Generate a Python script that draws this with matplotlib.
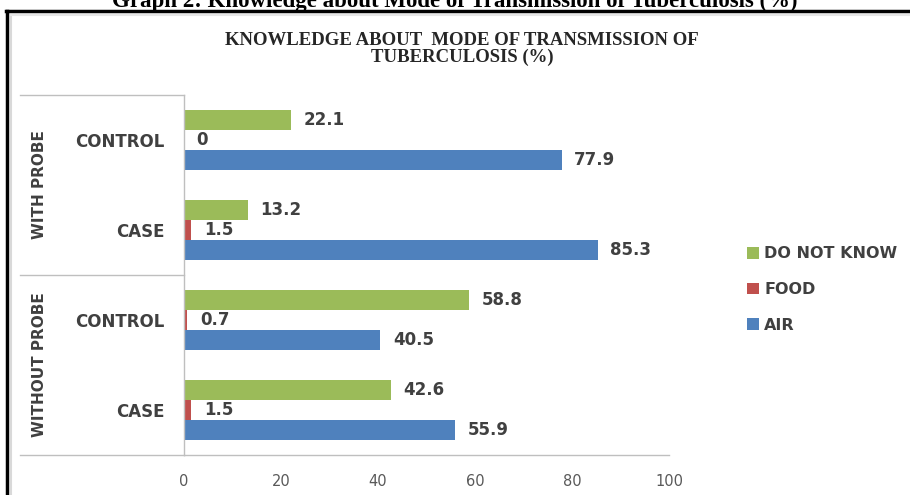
import matplotlib
matplotlib.use("Agg")
import matplotlib.pyplot as plt
import matplotlib.transforms as mtransforms

groups = ["WITH PROBE", "WITHOUT PROBE"]
categories = ["CONTROL", "CASE", "CONTROL", "CASE"]
air = [77.9, 85.3, 40.5, 55.9]
food = [0, 1.5, 0.7, 1.5]
dont_know = [22.1, 13.2, 58.8, 42.6]
series_names = ["DO NOT KNOW", "FOOD", "AIR"]
xticks = [0, 20, 40, 60, 80, 100]

W, H = 910, 495
green, red, blue = "#9BBB59", "#C0504D", "#4F81BD"
txt = "#404040"
sans = ["DejaVu Sans"]
serif = ["Liberation Serif", "DejaVu Serif"]

fig = plt.figure(figsize=(W / 100, H / 100), dpi=100)
ax = fig.add_axes([184 / W, 40 / H, 485 / W, 360 / H])

ypos = list(range(len(categories)))
off = 0.222
hgt = 0.212
series = [(dont_know, green, -off), (food, red, 0), (air, blue, off)]
for (vals, col, dy), name in zip(series, series_names):
    ys = [y + dy for y in ypos]
    ax.barh(ys, vals, height=hgt, color=col, label=name)
    for y, v in zip(ys, vals):
        ax.annotate(f"{v:g}", (v, y), xytext=(9, 0), textcoords="offset points",
                    va="center", ha="left", fontsize=12, fontweight="bold",
                    color=txt, family=sans)

ax.set_xlim(0, 100)
ax.set_ylim(3.5, -0.5)
ax.set_xticks(xticks)
ax.set_xticklabels([str(t) for t in xticks], fontsize=10.5, color="#595959", family=sans)
ax.set_yticks(ypos)
ax.set_yticklabels(categories, fontsize=12, fontweight="bold", color=txt, family=sans)
ax.tick_params(axis="x", length=0, pad=14)
ax.tick_params(axis="y", length=0, pad=14)
for s in ["top", "right"]:
    ax.spines[s].set_visible(False)
for s in ["left", "bottom"]:
    ax.spines[s].set_color("#bfbfbf")
    ax.spines[s].set_linewidth(1)

# category axis separators and group labels
blend = mtransforms.blended_transform_factory(fig.transFigure, ax.transData)
for yl in [-0.5, 1.5, 3.5]:
    ax.plot([20 / W, 184 / W], [yl, yl], transform=blend, color="#bfbfbf",
            lw=1, clip_on=False)
for i, g in enumerate(groups):
    ax.text(40 / W, 2 * i + 0.5, g, transform=blend, rotation=90, ha="center",
            va="center", fontsize=11, fontweight="bold", color=txt, family=sans)

# legend
handles, labels = ax.get_legend_handles_labels()
leg = fig.legend(handles, labels, loc="upper left",
                 bbox_to_anchor=(733 / W, 1 - 232 / H), frameon=False,
                 handlelength=0.75, handleheight=0.75, handletextpad=0.3,
                 labelspacing=1.3, prop={"family": sans, "weight": "bold", "size": 11.5})
for t in leg.get_texts():
    t.set_color(txt)

# titles
fig.text(0.508, 1 - 49 / H, "KNOWLEDGE ABOUT  MODE OF TRANSMISSION OF\nTUBERCULOSIS (%)",
         ha="center", va="center", fontsize=13.5, fontweight="bold", color="#262626",
         family=serif, linespacing=1.0)
fig.text(0.5, 1 - 7 / H, "Graph 2: Knowledge about Mode of Transmission of Tuberculosis (%)",
         ha="center", va="baseline", fontsize=16.5, fontweight="bold", color="black",
         family=serif)

# outer frame
fig.add_artist(plt.Line2D([7 / W, 7 / W], [0, 1 - 11 / H], color="black", lw=2.5,
                          transform=fig.transFigure))
fig.add_artist(plt.Line2D([6 / W, 1], [1 - 11 / H, 1 - 11 / H], color="black", lw=2.5,
                          transform=fig.transFigure))
fig.add_artist(plt.Line2D([11 / W, 11 / W], [0, 1 - 15 / H], color="#d9d9d9", lw=1.5,
                          transform=fig.transFigure))
fig.add_artist(plt.Line2D([11 / W, 1], [1 - 15 / H, 1 - 15 / H], color="#e6e6e6", lw=1.5,
                          transform=fig.transFigure))

fig.savefig("out.png", dpi=100)
